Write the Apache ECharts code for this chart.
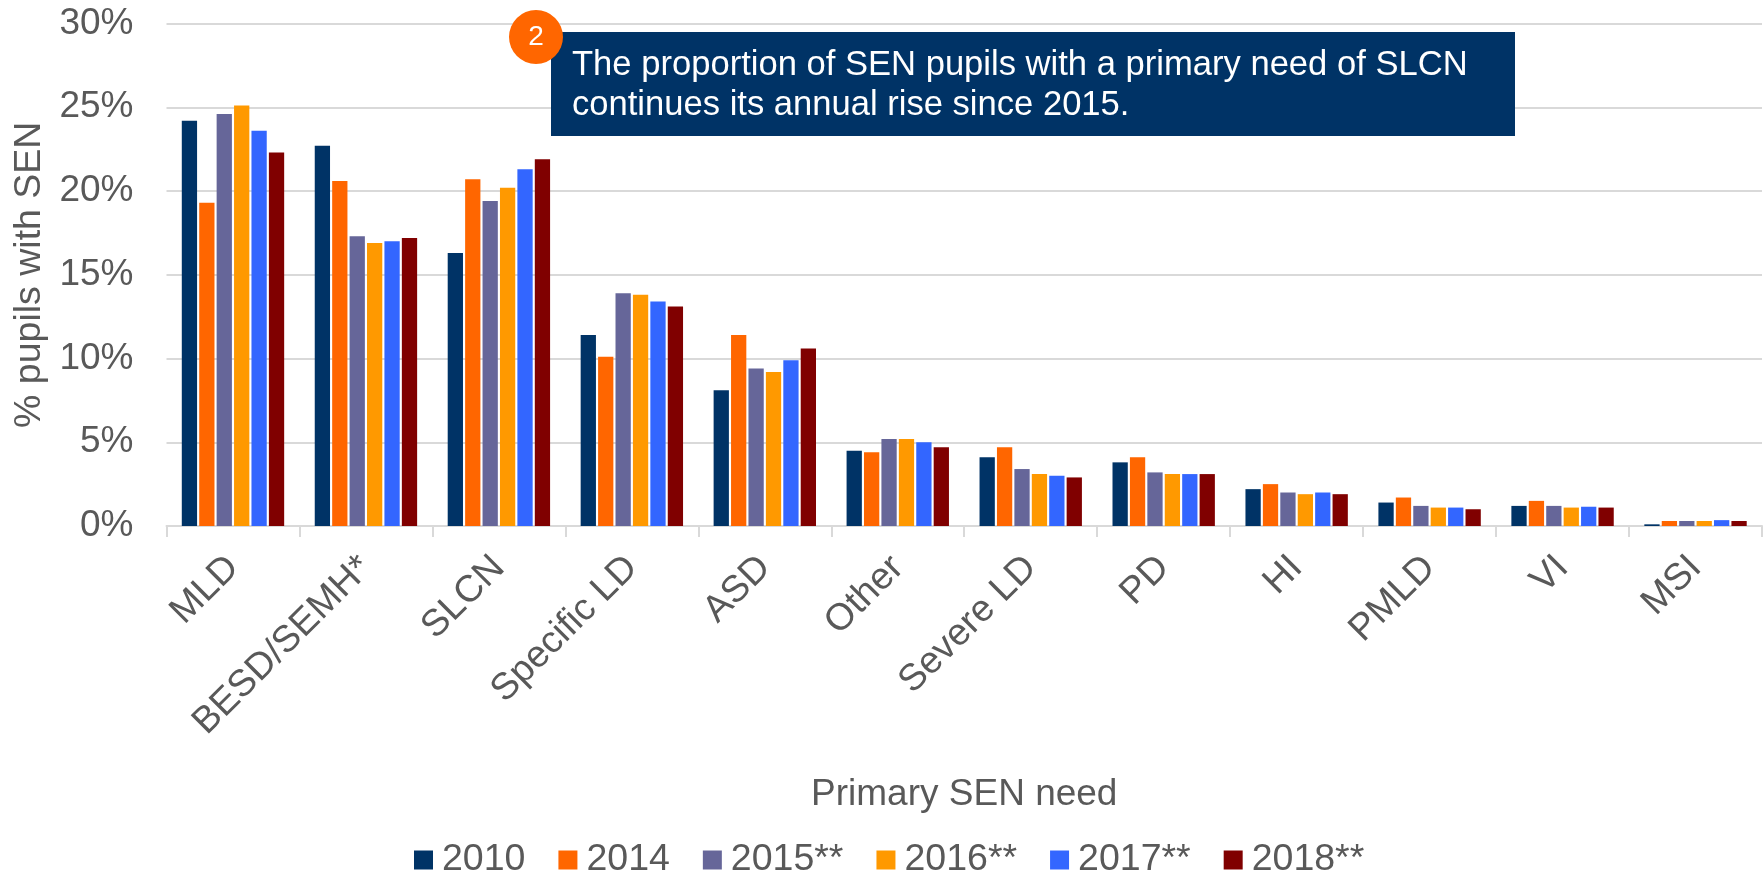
<!DOCTYPE html>
<html>
<head>
<meta charset="utf-8">
<title>Primary SEN need</title>
<style>
  html, body { margin: 0; padding: 0; background: #fff; }
  #chart { width: 1764px; height: 874px; }
</style>
<script src="https://cdn.jsdelivr.net/npm/echarts@6/dist/echarts.min.js"></script>
</head>
<body>
<div id="chart"></div>
<script>
// 数据
const categories = ['MLD', 'BESD/SEMH*', 'SLCN', 'Specific LD', 'ASD', 'Other', 'Severe LD', 'PD', 'HI', 'PMLD', 'VI', 'MSI']
const seriesNames = ['2010', '2014', '2015**', '2016**', '2017**', '2018**']
const v2010 = [24.2, 22.7, 16.3, 11.4, 8.1, 4.5, 4.1, 3.8, 2.2, 1.4, 1.2, 0.1]
const v2014 = [19.3, 20.6, 20.7, 10.1, 11.4, 4.4, 4.7, 4.1, 2.5, 1.7, 1.5, 0.3]
const v2015 = [24.6, 17.3, 19.4, 13.9, 9.4, 5.2, 3.4, 3.2, 2.0, 1.2, 1.2, 0.3]
const v2016 = [25.1, 16.9, 20.2, 13.8, 9.2, 5.2, 3.1, 3.1, 1.9, 1.1, 1.1, 0.3]
const v2017 = [23.6, 17.0, 21.3, 13.4, 9.9, 5.0, 3.0, 3.1, 2.0, 1.1, 1.15, 0.35]
const v2018 = [22.3, 17.2, 21.9, 13.1, 10.6, 4.7, 2.9, 3.1, 1.9, 1.0, 1.1, 0.3]
const allValues = [v2010, v2014, v2015, v2016, v2017, v2018]
const colors = ['#003366', '#FF6600', '#666699', '#FF9900', '#3366FF', '#800000']

const calloutLines = 'The proportion of SEN pupils with a primary need of SLCN\ncontinues its annual rise since 2015.'

const fontFamily = '"Liberation Sans", Arial, sans-serif'
const textColor = '#595959'
const lineColor = '#d9d9d9'

const myChart = echarts.init(document.querySelector('#chart'), null, { renderer: 'canvas' })

const option = {
  animation: false,
  color: colors,
  textStyle: { fontFamily },
  grid: { left: 166.5, right: 2, top: 23.5, bottom: 348, outerBoundsMode: 'none' },
  legend: {
    left: 409,
    top: 836,
    itemWidth: 19,
    itemHeight: 19,
    itemGap: 33,
    icon: 'rect',
    textStyle: { fontSize: 37.5, color: textColor, padding: [0, 0, 0, 4] },
    data: seriesNames
  },
  xAxis: {
    type: 'category',
    data: categories,
    name: 'Primary SEN need',
    nameLocation: 'middle',
    nameGap: 250,
    nameTextStyle: { fontSize: 37, color: textColor },
    axisLine: { lineStyle: { color: lineColor, width: 2 } },
    axisTick: { show: true, length: 11, lineStyle: { color: lineColor, width: 2 } },
    axisLabel: { rotate: 45, fontSize: 37.5, color: textColor, margin: 36, interval: 0 }
  },
  yAxis: {
    type: 'value',
    min: 0,
    max: 30,
    interval: 5,
    name: '% pupils with SEN',
    nameLocation: 'middle',
    nameGap: 114,
    nameTextStyle: { fontSize: 37.5, color: textColor },
    axisLine: { show: false },
    axisTick: { show: false },
    axisLabel: { formatter: '{value}%', fontSize: 37, color: textColor, margin: 33 },
    splitLine: { lineStyle: { color: lineColor, width: 2 } }
  },
  series: allValues.map((values, i) => ({
    name: seriesNames[i],
    type: 'bar',
    data: values,
    barGap: '14%',
    barCategoryGap: '23%'
  })),
  // 说明框
  graphic: [
    {
      type: 'rect',
      z: 100,
      shape: { x: 551, y: 32, width: 964, height: 104 },
      style: { fill: '#003366' }
    },
    {
      type: 'text',
      z: 101,
      style: {
        x: 572,
        y: 46,
        text: calloutLines,
        font: '34.6px ' + fontFamily,
        lineHeight: 39.5,
        fill: '#ffffff'
      }
    },
    {
      type: 'circle',
      z: 102,
      shape: { cx: 536, cy: 37, r: 27 },
      style: { fill: '#FF6600' }
    },
    {
      type: 'text',
      z: 103,
      style: {
        x: 536,
        y: 37,
        text: '2',
        font: '28px ' + fontFamily,
        fill: '#ffffff',
        align: 'center',
        verticalAlign: 'middle'
      }
    }
  ]
}
myChart.setOption(option)
</script>
</body>
</html>
